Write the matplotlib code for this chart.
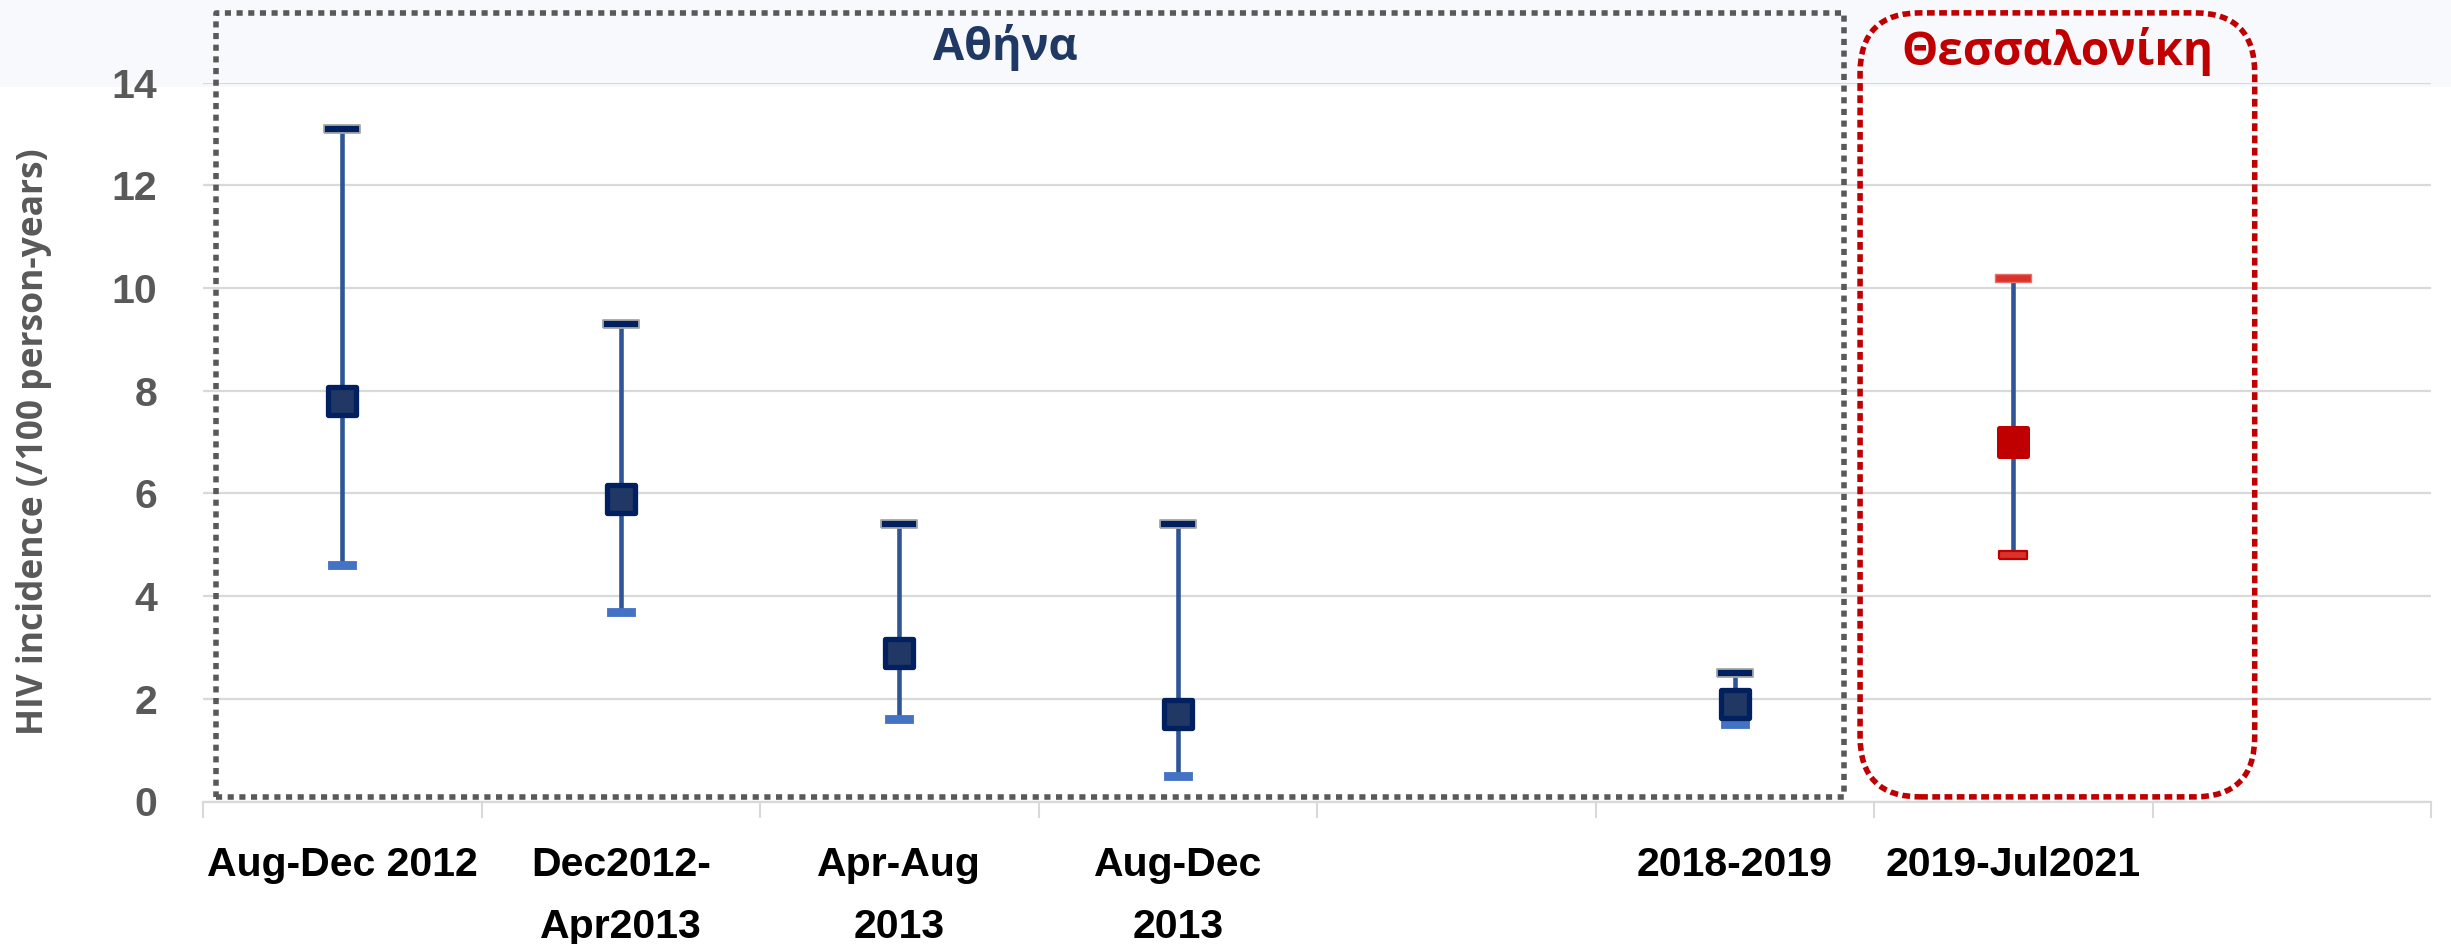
import matplotlib
matplotlib.use("Agg")
import matplotlib.pyplot as plt
from matplotlib.patches import Rectangle, FancyBboxPatch
from matplotlib.markers import MarkerStyle
from matplotlib.lines import Line2D
import numpy as np

# ---------------- data ----------------
categories = ["Aug-Dec 2012", "Dec2012-\nApr2013", "Apr-Aug\n2013", "Aug-Dec\n2013",
              "", "2018-2019", "2019-Jul2021", ""]
point_idx = [0, 1, 2, 3, 5, 6]
incidence = [7.8, 5.9, 2.9, 1.7, 1.9, 7.0]
ci_low = [4.6, 3.7, 1.6, 0.5, 1.5, 4.8]
ci_high = [13.1, 9.3, 5.4, 5.4, 2.5, 10.2]
yticks = [0, 2, 4, 6, 8, 10, 12, 14]
ylabel = "HIV incidence (/100 person-years)"
region_athens = "Αθήνα"
region_thess = "Θεσσαλονίκη"

# ---------------- figure ----------------
W, H, DPI = 2451, 944, 100
fig = plt.figure(figsize=(W / DPI, H / DPI), dpi=DPI)
fig.patch.set_facecolor("white")
fig.patches.append(Rectangle((0, 1 - 87 / H), 1, 87 / H, transform=fig.transFigure,
                             facecolor="#F7F9FC", edgecolor="none", zorder=-10))

ax = fig.add_axes([203 / W, 1 - 801.5 / H, (2431 - 203) / W, (801.5 - 82.7) / H])
ax.set_facecolor("none")
ax.set_xlim(-0.5, len(categories) - 0.5)
ax.set_ylim(0, 14)

for s in ["left", "right", "top"]:
    ax.spines[s].set_visible(False)
ax.spines["bottom"].set_color("#D9D9D9")
ax.spines["bottom"].set_linewidth(1.6)

ax.set_yticks(yticks)
ax.grid(axis="y", color="#D9D9D9", linewidth=1.6, zorder=0)
ax.set_axisbelow(True)

lab_font = dict(family=["Liberation Sans", "DejaVu Sans"], weight="bold", size=29.5)
ax.set_yticklabels([str(v) for v in yticks], color="#595959", **lab_font)
ax.tick_params(axis="y", length=0, pad=33)

ax.set_xticks(np.arange(len(categories)))
ax.set_xticklabels(categories, color="black", linespacing=1.8, **lab_font)
ax.tick_params(axis="x", which="major", length=0, pad=32)
ax.set_xticks(np.arange(len(categories) + 1) - 0.5, minor=True)
ax.tick_params(axis="x", which="minor", length=11.5, width=1.5, color="#D9D9D9", direction="out")

ax.set_ylabel(ylabel, family=["Open Sans", "DejaVu Sans"], weight="bold", size=25.5,
              color="#595959", va="center")
ax.yaxis.set_label_coords(-0.076, 0.5)

# ---------------- points ----------------
xs = np.array(point_idx, dtype=float)
inc = np.array(incidence)
lo = np.array(ci_low)
hi = np.array(ci_high)

ax.vlines(xs, lo, hi, color="#2F5597", linewidth=3.3, zorder=3)

up_cap = MarkerStyle([(-1, -0.22), (1, -0.22), (1, 0.22), (-1, 0.22), (-1, -0.22)])
lo_cap = MarkerStyle([(-1, -0.27), (1, -0.27), (1, 0.27), (-1, 0.27), (-1, -0.27)])
sq = MarkerStyle("s", joinstyle="round")

is_red = [i == 6 for i in point_idx]
for x, m, l, h, red in zip(xs, inc, lo, hi, is_red):
    if red:
        ax.plot([x], [h], marker=up_cap, ms=26.5, mfc="#D9342B", mec="#E8706A", mew=1.0,
                linestyle="none", zorder=4)
        ax.plot([x], [l], marker=lo_cap, ms=20.5, mfc="#D9342B", mec="#C00000", mew=1.6,
                linestyle="none", zorder=4)
        ax.plot([x], [m], marker=sq, ms=19.5, mfc="#C00000", mec="#C00000", mew=3.6,
                linestyle="none", zorder=5)
    else:
        ax.plot([x], [h], marker=up_cap, ms=26, mfc="#002060", mec="#A6A6A6", mew=1.3,
                linestyle="none", zorder=4)
        ax.plot([x], [l], marker=lo_cap, ms=20.5, mfc="#4472C4", mec="#4472C4", mew=0.6,
                linestyle="none", zorder=4)
        ax.plot([x], [m], marker=sq, ms=19.5, mfc="#213864", mec="#002060", mew=3.8,
                linestyle="none", zorder=5)

# ---------------- region boxes ----------------
px_x = (2431 - 203) / len(categories)   # pixels per x unit
px_y = (801.5 - 82.7) / 14              # pixels per y unit

gx0, gx1, gy0, gy1 = -0.453, 5.392, 0.09, 15.36
ax.add_line(Line2D([gx0, gx1, gx1, gx0, gx0], [gy0, gy0, gy1, gy1, gy0],
                   color="#595959", linewidth=4.0, linestyle=(0, (1.1, 1.0)),
                   dash_capstyle="butt", clip_on=False, zorder=2))

rx0, rx1, ry0, ry1 = 5.45, 6.867, 0.09, 15.36
rad = 60 / px_x
red_box = FancyBboxPatch((rx0, ry0), rx1 - rx0, ry1 - ry0,
                         boxstyle=f"round,pad=0,rounding_size={rad}",
                         mutation_aspect=px_x / px_y,
                         facecolor="none", edgecolor="#C00000", linewidth=4.0,
                         linestyle=(0, (1.4, 0.8)), clip_on=False, zorder=2)
ax.add_patch(red_box)

ax.text(2.38, 14.69, region_athens, ha="center", va="center", color="#1F3864",
        family=["Open Sans", "DejaVu Sans"], weight="bold", size=32.5, clip_on=False)
ax.text((rx0 + rx1) / 2, 14.61, region_thess, ha="center", va="center", color="#C00000",
        family=["Open Sans", "DejaVu Sans"], weight="bold", size=33, clip_on=False)

fig.savefig("out.png", dpi=DPI)
